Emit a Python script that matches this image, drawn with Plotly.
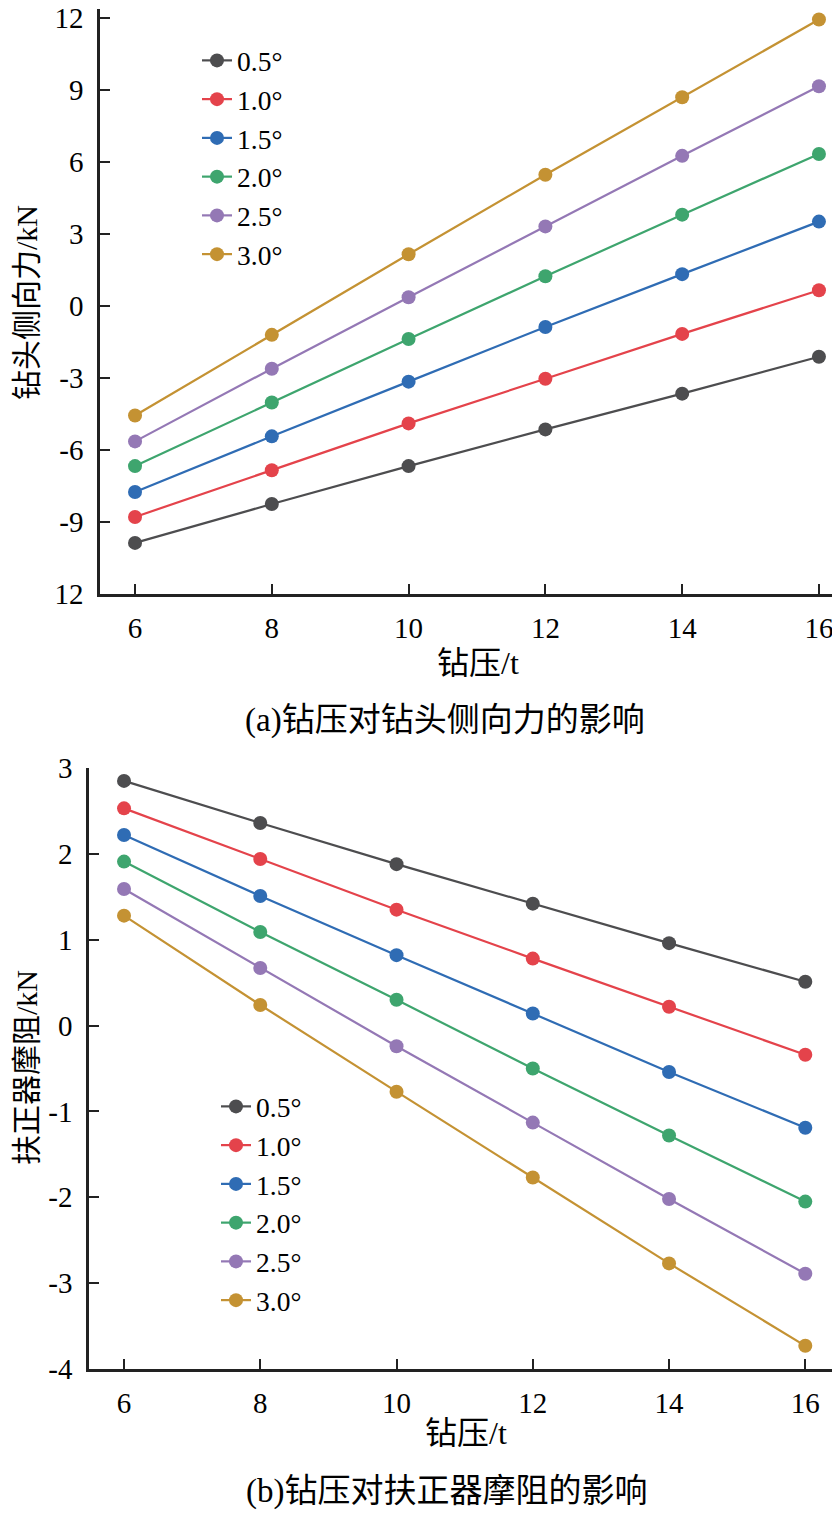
import plotly.graph_objects as go

# drilling pressure (t)
wob = [6, 8, 10, 12, 14, 16]
angles = ["0.5°", "1.0°", "1.5°", "2.0°", "2.5°", "3.0°"]
colors = ["#4d4d4f", "#e4434b", "#2f6cb4", "#3ea56e", "#9478b5", "#c49233"]

# (a) bit side force, kN
side_05 = [-9.87, -8.25, -6.67, -5.14, -3.65, -2.11]
side_10 = [-8.79, -6.84, -4.89, -3.03, -1.16, 0.66]
side_15 = [-7.75, -5.43, -3.15, -0.87, 1.33, 3.52]
side_20 = [-6.67, -4.02, -1.37, 1.24, 3.81, 6.34]
side_25 = [-5.64, -2.61, 0.37, 3.32, 6.26, 9.16]
side_30 = [-4.56, -1.20, 2.16, 5.47, 8.70, 11.94]

# (b) stabilizer friction, kN
fric_05 = [2.85, 2.36, 1.88, 1.42, 0.96, 0.51]
fric_10 = [2.53, 1.94, 1.35, 0.78, 0.22, -0.34]
fric_15 = [2.22, 1.51, 0.82, 0.14, -0.54, -1.19]
fric_20 = [1.91, 1.09, 0.30, -0.50, -1.28, -2.05]
fric_25 = [1.59, 0.67, -0.24, -1.13, -2.02, -2.89]
fric_30 = [1.28, 0.24, -0.77, -1.77, -2.77, -3.73]

side = [side_05, side_10, side_15, side_20, side_25, side_30]
fric = [fric_05, fric_10, fric_15, fric_20, fric_25, fric_30]

top_ticks = [12, 9, 6, 3, 0, -3, -6, -9, -12]
top_ticktext = ["12", "9", "6", "3", "0", "-3", "-6", "-9", "12"]
bot_ticks = [3, 2, 1, 0, -1, -2, -3, -4]
bot_ticktext = ["3", "2", "1", "0", "-1", "-2", "-3", "-4"]

FONT = "Liberation Serif, Times New Roman, Noto Sans CJK SC"

# the page body has an 8px margin, so the figure is a bit smaller than the window
OFF = 8
W, H = 840 - OFF, 1514 - OFF


def px(x):
    return (x - OFF) / W


def py(y):
    return 1 - (y - OFF) / H


fig = go.Figure()

for name, c, ys in zip(angles, colors, side):
    fig.add_trace(go.Scatter(x=wob, y=ys, name=name, mode="lines+markers",
                             line=dict(color=c, width=2.2),
                             marker=dict(color=c, size=14),
                             xaxis="x", yaxis="y", legend="legend"))

for name, c, ys in zip(angles, colors, fric):
    fig.add_trace(go.Scatter(x=wob, y=ys, name=name, mode="lines+markers",
                             line=dict(color=c, width=2.2),
                             marker=dict(color=c, size=14),
                             xaxis="x2", yaxis="y2", legend="legend2"))

axis_common = dict(showgrid=False, zeroline=False, showline=True,
                   automargin=False, ticklabeloverflow="allow",
                   linecolor="#222", linewidth=2.5, ticks="inside",
                   ticklen=10, tickwidth=2, tickcolor="#222",
                   tickfont=dict(family=FONT, size=29, color="black"))


def note(text, x, y, size=32, angle=0):
    return dict(text=text, xref="paper", yref="paper", x=px(x), y=py(y),
                xanchor="center", yanchor="middle", showarrow=False,
                textangle=angle, font=dict(family=FONT, size=size, color="black"))


fig.update_layout(
    width=W, height=H,
    margin=dict(l=0, r=0, t=0, b=0, autoexpand=False),
    paper_bgcolor="white", plot_bgcolor="white",
    font=dict(family=FONT, size=28, color="black"),
    xaxis=dict(domain=[px(100), px(834)], range=[5.488, 16.22],
               tickvals=wob, anchor="y", ticklabelstandoff=6,
               **axis_common),
    yaxis=dict(domain=[py(594), py(9)], range=[-12, 12.38],
               tickvals=top_ticks, ticktext=top_ticktext, anchor="x",
               ticklabelstandoff=8, **axis_common),
    xaxis2=dict(domain=[px(89), px(838)], range=[5.486, 16.48],
                tickvals=wob, anchor="y2", ticklabelstandoff=6,
                **axis_common),
    yaxis2=dict(domain=[py(1369), py(768)], range=[-4, 3],
                tickvals=bot_ticks, ticktext=bot_ticktext, anchor="x2",
                ticklabelstandoff=8, **axis_common),
    legend=dict(x=px(197), y=py(36), xanchor="left", yanchor="top",
                bgcolor="rgba(0,0,0,0)", tracegroupgap=0,
                font=dict(family=FONT, size=27.5)),
    legend2=dict(x=px(216), y=py(1082), xanchor="left", yanchor="top",
                 bgcolor="rgba(0,0,0,0)", tracegroupgap=0,
                 font=dict(family=FONT, size=27.5)),
    annotations=[
        note("钻头侧向力/kN", 26, 303, size=30, angle=-90),
        note("钻压/t", 478, 663),
        note("(a)钻压对钻头侧向力的影响", 445, 720, size=33),
        note("扶正器摩阻/kN", 26, 1068, size=30, angle=-90),
        note("钻压/t", 466, 1433),
        note("(b)钻压对扶正器摩阻的影响", 447, 1491, size=33),
    ],
)

fig.write_html("out.html")
